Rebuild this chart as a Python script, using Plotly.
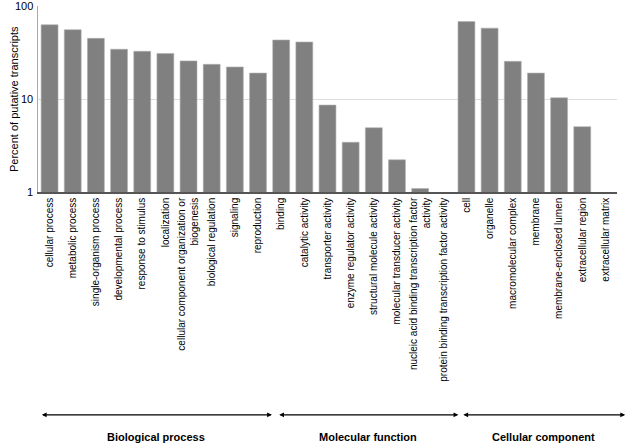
import math
import plotly.graph_objects as go

categories = [
    "cellular process", "metabolic process", "single-organism process",
    "developmental process", "response to stimulus", "localization",
    "cellular component organization or<br>biogenesis", "biological regulation",
    "signaling", "reproduction",
    "binding", "catalytic activity", "transporter activity",
    "enzyme regulator activity", "structural molecule activity",
    "molecular transducer activity",
    "nucleic acid binding transcription factor<br>activity",
    "protein binding transcription factor activity",
    "cell", "organelle", "macromolecular complex", "membrane",
    "membrane-enclosed lumen", "extracellular region", "extracellular matrix",
]
values = [
    62.8, 55.6, 44.9, 34.3, 32.6, 30.9, 25.7, 23.6, 22.1, 19.0,
    43.1, 41.0, 8.6, 3.43, 4.91, 2.22, 1.09, None,
    68.1, 57.8, 25.4, 19.0, 10.3, 5.04, None,
]
groups = ["Biological process", "Molecular function", "Cellular component"]
group_ranges = [(-0.4, 9.6), (9.85, 17.65), (17.8, 24.85)]
tick_vals = [1, 10, 100]
tick_text = ["1", "10", "100"]

fig = go.Figure(go.Bar(
    x=list(range(len(categories))), y=values,
    marker=dict(color="#808080", line=dict(color="#b0b0b0", width=0.6)),
))

fig.update_layout(
    width=625, height=443,
    margin=dict(l=38, r=8, t=6, b=251),
    paper_bgcolor="white", plot_bgcolor="white",
    bargap=0.27, showlegend=False,
    font=dict(family="Liberation Sans, Arial, sans-serif", color="#000000"),
)
fig.update_xaxes(
    tickmode="array", tickvals=list(range(len(categories))), ticktext=categories,
    tickangle=-90, tickfont=dict(size=10, color="#000000"), range=[-0.5, len(categories) - 0.5],
    showline=True, linecolor="#555555", linewidth=1.5, ticks="", showgrid=False,
    automargin=False,
)
fig.update_yaxes(
    type="log", range=[0, 2], tickvals=tick_vals, showticklabels=False,
    showgrid=True, gridcolor="#dddddd",
    showline=True, linecolor="#aaaaaa", linewidth=1, ticks="",
    zeroline=False, automargin=False,
)

# y tick labels (annotations on a log axis take log10 positions)
for v, t in zip(tick_vals, tick_text):
    fig.add_annotation(
        x=0, y=math.log10(v), xref="paper", yref="y", text=t, showarrow=False,
        xanchor="right", yanchor="middle", xshift=-3,
        font=dict(size=11, color="#000000"),
    )
fig.add_annotation(
    x=0, y=0.5, xref="paper", yref="paper", text="Percent of putative transcripts",
    showarrow=False, textangle=-90, xanchor="center", yanchor="middle",
    xshift=-24, font=dict(size=11, color="#000000"),
)

for name, (a, b) in zip(groups, group_ranges):
    fig.add_annotation(
        x=b, y=-1.198, ax=a, ay=0, xref="x", yref="paper", axref="x", ayref="pixel",
        text="", showarrow=True, arrowhead=2, arrowside="end+start",
        arrowsize=0.8, arrowwidth=1.2, arrowcolor="#000000",
    )
    fig.add_annotation(
        x=(a + b) / 2, y=-1.315, xref="x", yref="paper", text="<b>" + name + "</b>",
        showarrow=False, font=dict(size=11, color="#000000"), yanchor="middle",
    )

fig.write_html("out.html", config={"displayModeBar": False},
               post_script="document.body.style.margin='0';")
